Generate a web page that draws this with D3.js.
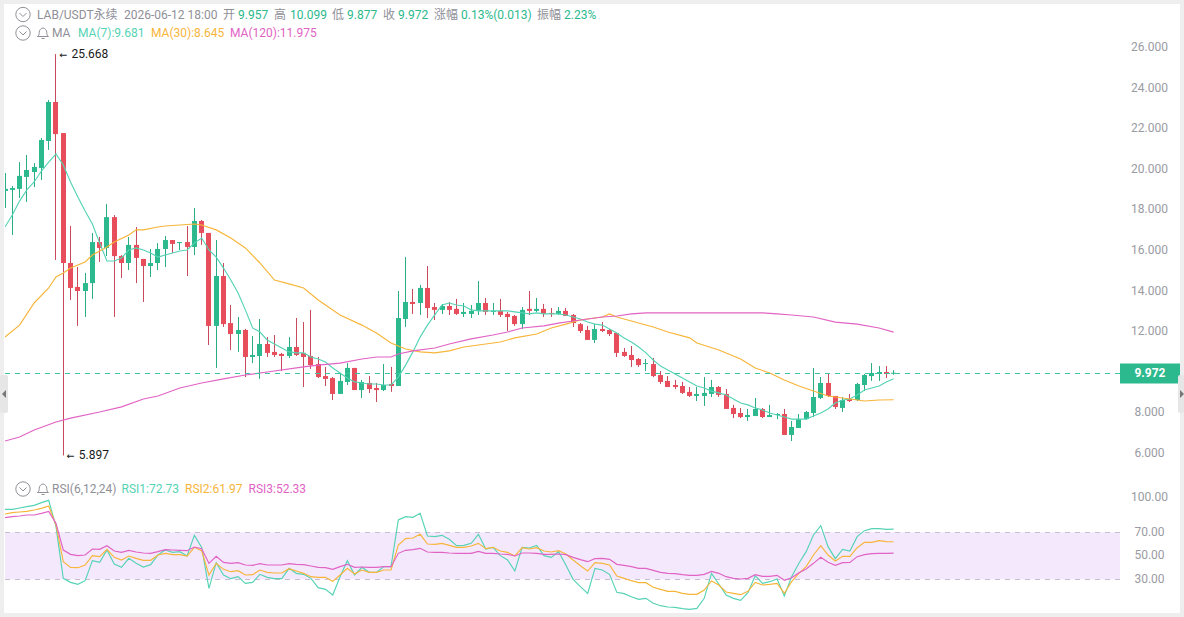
<!DOCTYPE html>
<html>
<head>
<meta charset="utf-8">
<title>LAB/USDT 永续</title>
<script src="https://cdn.jsdelivr.net/npm/d3@7/dist/d3.min.js"></script>
<style>
  html, body { margin: 0; padding: 0; background: #fff; overflow: hidden; }
  svg { display: block; font-family: Roboto, "Noto Sans CJK SC", sans-serif; }
</style>
</head>
<body>
<svg id="chart" width="1184" height="617"></svg>
<script>
// Candle values, oldest first
const opens = [18.93,18.98,19.03,19.62,19.86,20.06,21.39,23.31,21.78,15.38,14.20,14.00,14.39,16.41,16.12,17.64,15.72,15.38,16.27,15.58,15.23,15.38,16.07,16.51,16.36,16.41,16.17,17.45,16.86,12.28,14.74,12.42,11.88,12.08,10.75,10.80,11.39,11.00,10.90,10.80,11.24,10.95,10.80,10.40,9.81,9.71,8.93,9.52,10.21,9.12,9.47,9.22,9.12,9.42,9.32,12.62,13.46,13.41,14.15,13.21,13.07,13.26,13.12,12.87,12.87,13.02,13.41,12.97,13.02,12.87,12.77,12.37,13.12,13.02,13.12,12.92,12.87,13.02,12.82,12.37,12.08,11.59,12.13,12.08,11.93,11.00,10.85,10.65,10.40,10.40,9.86,9.57,9.37,9.32,9.03,8.83,8.83,8.93,9.27,8.93,8.24,7.99,7.79,7.84,8.19,7.79,7.89,7.94,6.91,7.25,7.69,7.99,8.73,9.47,8.83,8.24,8.68,8.63,9.37,9.81,9.91,10.01,9.957];
const highs = [19.81,19.17,20.35,20.70,20.30,21.54,23.41,25.668,21.78,17.20,15.18,14.89,16.86,16.66,18.29,17.74,15.77,16.66,17.15,15.58,16.07,16.36,16.71,16.51,16.41,17.20,18.09,17.50,16.86,16.51,15.38,13.31,12.72,12.13,11.78,12.62,11.73,11.83,10.95,11.73,12.67,12.47,13.07,10.75,10.26,9.76,9.96,10.45,10.21,9.62,9.81,9.47,10.40,10.26,14.00,15.67,14.10,14.30,15.23,13.41,13.36,13.46,13.61,13.41,13.31,14.49,13.66,13.41,13.61,12.97,12.82,13.21,14.00,13.66,13.36,13.16,13.21,13.16,12.87,12.42,12.28,12.37,12.47,12.13,11.93,11.19,11.29,10.70,10.65,10.70,10.06,9.81,9.62,9.52,9.27,9.27,9.76,9.62,9.32,9.17,8.39,8.24,8.19,8.73,8.24,8.39,7.99,8.19,7.60,7.94,8.09,10.21,9.76,9.96,8.83,8.78,8.93,9.47,9.91,10.45,10.30,10.30,10.099];
const lows = [18.09,16.76,18.58,18.39,19.12,19.47,20.95,15.53,5.897,13.56,12.28,12.72,13.61,15.43,15.72,12.72,14.64,15.03,14.39,13.46,14.69,15.03,15.18,15.87,16.02,14.74,15.77,16.27,11.34,10.21,12.23,11.09,11.00,9.76,10.45,9.67,10.75,10.75,10.06,10.70,10.80,9.27,10.16,9.71,9.32,8.63,8.93,9.37,9.12,8.73,8.98,8.53,9.07,9.03,9.32,12.23,12.87,12.82,12.67,12.57,12.87,12.82,12.82,12.72,12.67,12.82,12.82,12.82,12.72,12.03,12.28,12.13,12.82,12.97,12.72,12.72,12.82,12.77,12.23,11.93,11.59,11.44,11.98,11.78,10.75,10.75,10.26,10.26,10.06,9.76,9.42,9.27,9.17,8.93,8.78,8.58,8.34,8.78,8.78,8.19,7.74,7.74,7.60,7.84,7.74,7.79,7.69,6.91,6.61,7.25,7.65,7.79,8.68,8.78,8.19,8.04,8.53,8.58,9.07,9.57,9.57,9.71,9.877];
const closes = [19.03,19.07,19.67,19.96,20.11,21.44,23.31,21.73,15.38,14.15,14.00,14.39,16.41,16.12,17.64,15.72,15.38,16.27,15.63,15.23,15.38,16.07,16.51,16.32,16.41,16.17,17.45,16.86,12.28,14.74,12.37,11.88,12.08,10.75,10.85,11.39,10.95,10.85,10.80,11.24,10.85,10.75,10.35,9.76,9.67,8.93,9.57,10.21,9.12,9.52,9.17,9.12,9.37,9.32,12.67,13.46,13.36,14.15,13.16,13.07,13.26,13.07,12.87,12.97,13.02,13.41,12.97,13.02,12.82,12.72,12.37,13.07,13.02,13.12,12.87,12.87,13.02,12.77,12.42,12.03,11.59,12.13,12.03,11.88,10.95,10.80,10.60,10.35,10.45,9.81,9.52,9.27,9.27,8.98,8.83,8.93,8.98,9.27,8.88,8.19,7.94,7.79,7.89,8.19,7.79,7.89,7.94,6.91,7.30,7.69,8.04,8.78,9.47,8.83,8.29,8.63,8.58,9.42,9.86,9.96,10.01,9.91,9.972];

// Moving averages
const ma7 = [17.15,17.74,18.43,18.98,19.37,19.91,20.35,20.75,20.21,19.37,18.63,17.94,17.30,16.36,15.48,15.48,15.63,16.02,16.12,16.02,15.87,15.67,15.77,15.87,15.97,16.02,16.36,16.61,16.02,15.67,15.13,14.54,13.90,13.07,12.18,11.98,11.59,11.39,11.19,11.00,10.95,10.95,10.75,10.65,10.50,10.21,9.96,9.71,9.52,9.47,9.42,9.42,9.37,9.37,9.76,10.35,11.00,11.73,12.32,12.82,13.31,13.41,13.31,13.26,13.07,13.02,13.02,13.02,13.02,13.02,12.97,12.92,12.87,12.92,12.87,12.87,12.87,12.82,12.72,12.62,12.47,12.37,12.32,12.13,11.93,11.69,11.49,11.24,10.95,10.60,10.30,10.11,9.91,9.71,9.52,9.32,9.22,9.07,8.98,8.88,8.68,8.48,8.39,8.24,8.14,7.99,7.89,7.79,7.69,7.69,7.69,7.84,7.99,8.19,8.48,8.63,8.68,8.88,9.12,9.22,9.32,9.52,9.681];
const ma30Index = [0,2,4,6,7,8,9,11,12,14,15,17,18,19,21,22,24,26,27,29,31,33,35,37,39,41,43,46,49,51,53,54,55,57,59,61,63,66,68,70,73,75,77,79,82,83,84,86,89,91,94,95,98,101,103,105,107,109,111,113,115,117,118,120,122];
const ma30 = [11.73,12.32,13.41,14.15,14.69,14.89,15.13,15.43,15.77,16.17,16.41,16.76,17.01,17.01,17.15,17.20,17.25,17.30,17.25,17.01,16.61,16.12,15.38,14.54,14.35,14.15,13.56,12.82,12.32,11.93,11.44,11.29,11.14,11.00,10.95,11.05,11.24,11.39,11.49,11.69,11.88,12.18,12.37,12.57,12.72,12.87,12.72,12.52,12.23,11.98,11.69,11.44,11.09,10.65,10.21,9.96,9.62,9.32,9.07,8.83,8.73,8.63,8.58,8.63,8.645];
const ma120Index = [0,2,4,7,9,13,16,19,21,24,27,30,33,36,41,43,46,49,51,53,54,56,59,61,64,67,69,71,74,76,78,80,82,84,86,88,92,96,100,104,106,108,111,114,117,120,122];
const ma120 = [6.61,6.81,7.15,7.55,7.74,8.04,8.29,8.68,8.83,9.22,9.47,9.67,9.86,10.01,10.26,10.35,10.45,10.65,10.75,10.75,10.90,11.05,11.19,11.39,11.64,11.83,11.98,12.18,12.28,12.42,12.52,12.62,12.72,12.77,12.87,12.92,12.92,12.92,12.92,12.92,12.87,12.82,12.72,12.47,12.37,12.18,11.975];

// RSI series
const rsi1 = [89.54,89.54,90.68,91.81,92.95,95.22,97.2,74.79,30.82,27.41,25.71,28.83,45.85,44.43,54.93,43.02,40.18,47.84,43.6,40.46,42.45,50.68,54.93,52.95,53.51,49.83,67.42,57.2,22.3,44.15,33.66,30.54,32.24,26.56,27.41,34.22,31.67,30.54,30.54,39.33,35.07,34.22,30.82,22.87,21.45,16.63,32.24,45.85,33.66,40.18,35.93,35.93,40.75,40.75,80.47,83.3,82.74,86.14,66.85,66.28,67.42,64.01,58.62,58.9,60.6,68.27,55.78,57.2,50.11,46.42,37.06,57.2,56.64,58.9,50.11,48.69,53.51,42.17,29.97,23.73,18.05,39.33,37.91,34.22,18.9,17.77,15.21,12.94,13.8,9.54,7.55,6.42,6.14,5.0,4.43,5.28,13.8,35.07,25.99,16.63,13.8,12.09,18.62,33.09,26.56,27.98,30.25,15.78,32.24,43.6,53.51,67.7,75.64,57.77,47.56,55.5,54.08,66.28,71.39,73.09,73.09,72.52,72.73];
const rsi2 = [85.57,86.71,87.27,87.84,88.98,90.4,92.38,76.21,45.0,40.18,39.9,42.17,50.11,49.26,55.5,48.69,46.42,49.83,47.84,46.14,46.14,50.68,52.1,50.96,50.96,49.83,57.2,54.37,33.66,43.6,38.48,36.49,37.34,33.66,33.94,37.91,35.93,35.36,35.36,39.05,37.06,35.07,32.24,31.67,31.67,28.26,33.66,39.33,34.5,37.91,35.93,35.93,37.91,37.91,59.19,64.58,65.15,68.27,60.04,59.76,60.6,58.9,57.2,57.2,58.34,60.6,56.07,57.2,54.08,52.95,49.83,56.92,55.78,56.92,54.08,53.23,54.37,51.53,46.42,41.6,37.06,44.15,43.6,42.17,32.8,30.82,28.83,27.13,27.13,23.16,21.45,19.75,19.75,18.05,17.2,17.2,20.89,28.55,25.14,19.19,18.05,16.92,19.75,27.41,25.14,25.71,26.56,18.05,27.98,35.07,40.75,50.68,58.62,50.68,45.57,49.54,49.54,56.92,61.46,61.46,62.88,62.03,61.97];
const rsi3 = [82.45,83.3,83.87,84.72,84.72,86.14,87.84,77.63,54.93,51.24,50.11,50.68,55.78,55.5,58.62,54.08,52.95,54.65,53.23,52.38,52.1,53.51,55.22,54.93,54.65,54.37,57.49,56.07,43.6,49.54,44.43,43.6,44.15,42.17,41.88,43.3,42.17,42.17,42.17,43.3,42.73,42.45,41.31,40.18,39.9,38.48,40.75,42.73,40.18,40.46,40.18,40.18,40.75,40.75,52.1,54.65,55.22,56.35,53.23,52.95,52.95,52.38,52.1,52.1,52.1,53.8,52.1,52.1,51.53,51.24,49.83,52.38,52.38,52.1,51.24,51.24,51.53,50.96,48.69,46.71,45.0,47.56,47.84,46.99,42.73,41.88,40.75,39.33,39.33,37.63,35.93,35.07,34.79,33.94,33.37,33.37,34.22,36.77,35.07,32.24,30.82,30.25,30.82,33.94,32.52,32.52,33.37,29.11,31.39,35.64,38.76,43.6,48.69,44.43,41.88,44.15,44.43,49.26,50.96,51.81,52.1,52.1,52.33];

// Axis ticks
const priceTicks = [6, 8, 12, 14, 16, 18, 20, 22, 24, 26];
const rsiTicks = [30, 50, 70, 100];
const lastPrice = 9.972;
const maxPrice = 25.668;
const minPrice = 5.897;

// Header readout
const headerRow = [
  { t: "LAB/USDT永续", x: 37, c: "grey" }, { t: "2026-06-12 18:00", x: 124, c: "grey" },
  { t: "开", x: 223, c: "grey" }, { t: "9.957", x: 238, c: "up" },
  { t: "高", x: 274, c: "grey" }, { t: "10.099", x: 290, c: "up" },
  { t: "低", x: 332, c: "grey" }, { t: "9.877", x: 347, c: "up" },
  { t: "收", x: 383, c: "grey" }, { t: "9.972", x: 398, c: "up" },
  { t: "涨幅", x: 434, c: "grey" }, { t: "0.13%(0.013)", x: 461, c: "up" },
  { t: "振幅", x: 537, c: "grey" }, { t: "2.23%", x: 564, c: "up" }
];
const maLegend = [
  { t: "MA", x: 52, c: "grey" }, { t: "MA(7):9.681", x: 78, c: "teal" },
  { t: "MA(30):8.645", x: 151, c: "amber" }, { t: "MA(120):11.975", x: 230, c: "pink" }
];
const rsiLegend = [
  { t: "RSI(6,12,24)", x: 52, c: "grey" }, { t: "RSI1:72.73", x: 121.5, c: "teal" },
  { t: "RSI2:61.97", x: 185, c: "amber" }, { t: "RSI3:52.33", x: 248.5, c: "pink" }
];

const palette = {
  up: "#2bb98d", down: "#e84d5b", upWick: "#2aac85", downWick: "#c94a5c", guide: "#3cc5a2", grey: "#8f9098", tick: "#9a9ba3",
  teal: "#56d3b5", amber: "#f7b53a", pink: "#e163c4", band: "#f4e8fd", bandEdge: "#c8bccf", edge: "#eeeeee"
};

const svg = d3.select("#chart");
const W = 1184, H = 617;

// Scales
const x = d3.scaleLinear().domain([0, opens.length - 1]).range([5, 893.6]);
const yPrice = d3.scaleLinear().domain([6, 26]).range([453.4, 47.4]);
const yRsi = d3.scaleLinear().domain([30, 70]).range([579.3, 532.3]);

// Outer frame strips
svg.append("rect").attr("width", W).attr("height", H).attr("fill", "#fff");
svg.append("rect").attr("width", W).attr("height", 4).attr("fill", palette.edge);
svg.append("rect").attr("width", 4).attr("height", H).attr("fill", palette.edge);
svg.append("rect").attr("y", 613).attr("width", W).attr("height", 4).attr("fill", palette.edge);
svg.append("rect").attr("x", 1180).attr("width", 4).attr("height", H).attr("fill", palette.edge);

const defs = svg.append("defs");
defs.append("clipPath").attr("id", "plot").append("rect").attr("x", 5).attr("y", 0).attr("width", 1115).attr("height", 613);

// RSI band with crisp dashed edges
svg.append("rect")
  .attr("x", 5).attr("width", 1115)
  .attr("y", yRsi(70)).attr("height", yRsi(30) - yRsi(70))
  .attr("fill", palette.band);
[70, 30].forEach(v => svg.append("line")
  .attr("x1", 5).attr("x2", 1120).attr("y1", Math.floor(yRsi(v)) + 0.5).attr("y2", Math.floor(yRsi(v)) + 0.5)
  .attr("stroke", palette.bandEdge).attr("stroke-dasharray", "5 5"));

const plot = svg.append("g").attr("clip-path", "url(#plot)");

// Candles: wicks sit on whole pixels
const candles = plot.append("g").selectAll("g").data(d3.range(opens.length)).join("g");
candles.append("line")
  .attr("x1", i => Math.floor(x(i)) + 0.5).attr("x2", i => Math.floor(x(i)) + 0.5)
  .attr("y1", i => yPrice(highs[i])).attr("y2", i => yPrice(lows[i]))
  .attr("stroke", i => closes[i] >= opens[i] ? palette.upWick : palette.downWick)
  .attr("stroke-width", 1);
candles.append("rect")
  .attr("x", i => Math.floor(x(i)) - 2).attr("width", 5)
  .attr("y", i => yPrice(Math.max(opens[i], closes[i])))
  .attr("height", i => Math.max(1, Math.abs(yPrice(opens[i]) - yPrice(closes[i]))))
  .attr("fill", i => closes[i] >= opens[i] ? palette.up : palette.down);

// Last price guide
const lastRow = Math.round(yPrice(lastPrice)) + 0.5;
svg.append("line")
  .attr("x1", 5).attr("x2", 1126).attr("y1", lastRow).attr("y2", lastRow)
  .attr("stroke", palette.guide).attr("stroke-dasharray", "5 5");

// Moving average lines
const line = d3.line().x(d => x(d[0])).y(d => yPrice(d[1]));
const drawMA = (idx, vals, color) => plot.append("path")
  .datum(idx.map((k, n) => [k, vals[n]]))
  .attr("d", line).attr("fill", "none").attr("stroke", color).attr("stroke-width", 1.15);
drawMA(d3.range(ma7.length), ma7, palette.teal);
drawMA(ma30Index, ma30, palette.amber);
drawMA(ma120Index, ma120, palette.pink);

// RSI lines
const rsiLine = d3.line().x((d, i) => x(i)).y(d => yRsi(d));
[[rsi1, palette.teal], [rsi2, palette.amber], [rsi3, palette.pink]].forEach(([s, c]) =>
  plot.append("path").datum(s).attr("d", rsiLine).attr("fill", "none").attr("stroke", c).attr("stroke-width", 1.15));

// Value axes on the right
const styleAxis = g => {
  g.select(".domain").remove();
  g.selectAll("line").remove();
  g.selectAll("text").attr("fill", palette.tick).attr("font-size", 12)
    .attr("font-family", "Roboto, sans-serif").attr("text-anchor", "middle").attr("x", 0);
};
svg.append("g").attr("transform", "translate(1149.5,-0.8)")
  .call(d3.axisRight(yPrice).tickValues(priceTicks).tickFormat(d3.format(".3f")))
  .call(styleAxis);
svg.append("g").attr("transform", "translate(1149.5,-0.8)")
  .call(d3.axisRight(yRsi).tickValues(rsiTicks).tickFormat(d3.format(".2f")))
  .call(styleAxis);

// Last price tag
svg.append("rect").attr("x", 1120).attr("width", 60)
  .attr("y", lastRow - 10).attr("height", 20).attr("fill", palette.up);
svg.append("text").attr("x", 1150).attr("y", lastRow - 0.5).attr("dy", "0.36em")
  .attr("text-anchor", "middle").attr("fill", "#fff").attr("font-size", 12).attr("font-weight", 700)
  .text(d3.format(".3f")(lastPrice));

// Extreme price callouts: a small arrow glyph followed by the value
const callout = (i, v) => {
  const t = svg.append("text")
    .attr("x", x(i) + 3.5).attr("y", yPrice(v) - 0.5).attr("dy", "0.36em")
    .attr("fill", "#1a1a1a").attr("font-size", 12);
  t.append("tspan").attr("font-size", 9.5).attr("font-family", "DejaVu Sans").text("←");
  t.append("tspan").attr("dx", 4).text(d3.format(".3f")(v));
};
callout(7, maxPrice);
callout(8, minPrice);

// Legend rows
const drawRow = (items, y) => svg.append("g").selectAll("text").data(items).join("text")
  .attr("x", d => d.x).attr("y", y).attr("dy", "0.36em")
  .attr("font-size", 12).attr("fill", d => palette[d.c]).text(d => d.t);
drawRow(headerRow, 14.5);
drawRow(maLegend, 33);
drawRow(rsiLegend, 488.5);

// Collapse chevrons and bell icons
const chevron = (cx, cy) => {
  const g = svg.append("g").attr("fill", "none").attr("stroke", "#8f9098");
  g.append("circle").attr("cx", cx).attr("cy", cy).attr("r", 7.2);
  g.append("path").attr("d", `M${cx - 3.5} ${cy - 1.5}L${cx} ${cy + 2}L${cx + 3.5} ${cy - 1.5}`);
};
const bell = (cx, cy) => {
  const g = svg.append("g").attr("fill", "none").attr("stroke", "#8f9098");
  g.append("path").attr("d", `M${cx - 5.5} ${cy + 3.5}c1.5 -1 1.7 -2 1.7 -4c0 -2.5 2 -4.5 3.8 -4.5s3.8 2 3.8 4.5c0 2 .2 3 1.7 4z`);
  g.append("path").attr("d", `M${cx - 1.5} ${cy + 5.5}h3`);
};
chevron(23, 14.5); chevron(23, 33); chevron(23, 489);
bell(43, 33); bell(43, 489);

// Pane scroll handles
svg.append("rect").attr("x", 0).attr("y", 375).attr("width", 8).attr("height", 38).attr("rx", 2).attr("fill", "#e6e6e6");
svg.append("path").attr("d", "M2 394l4 -4v8z").attr("fill", "#777");
svg.append("rect").attr("x", 1178).attr("y", 375).attr("width", 6).attr("height", 38).attr("rx", 2).attr("fill", "#e6e6e6");
svg.append("path").attr("d", "M1184 394l-4 -4v8z").attr("fill", "#777");
</script>
</body>
</html>
